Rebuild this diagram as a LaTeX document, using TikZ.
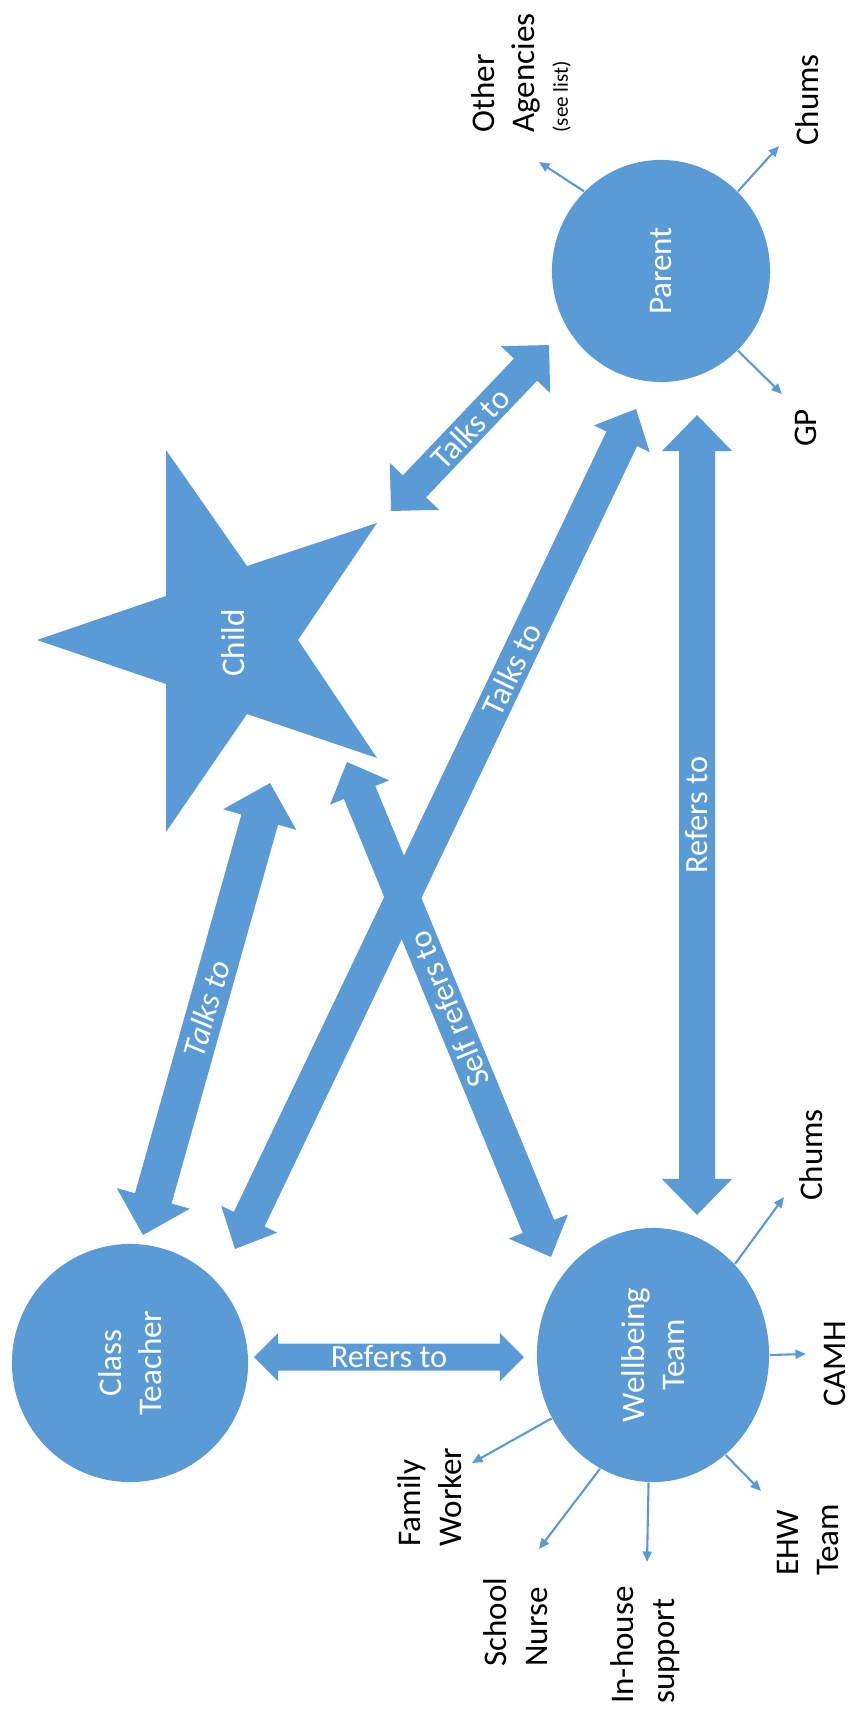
\documentclass[tikz,border=0pt]{standalone}
\usepackage{fontspec}
\setmainfont{Carlito}
\usepackage{tikz}
\usetikzlibrary{calc,arrows.meta,shapes.geometric}

\definecolor{boxblue}{RGB}{91,155,213}

\begin{document}
\begin{tikzpicture}[x=0.01cm,y=-0.01cm,
	blob/.style={ellipse,fill=boxblue,text=white,rotate=90,align=center,inner sep=0pt,font=\fontsize{9.4}{11.4}\selectfont},
	outside/.style={rotate=90,align=left,inner sep=0pt,font=\fontsize{9.4}{11.6}\selectfont},
	onarrow/.style={text=white,inner sep=0pt,sloped,allow upside down,font=\fontsize{9.2}{11}\selectfont},
	link/.style={boxblue,line width=0.6pt,-{Triangle[length=3pt,width=2.6pt]}}]

	% #1 from, #2 to, #3 half shaft, #4 half head, #5 head length
	\newcommand{\bigArrow}[5]{%
		\coordinate (pa) at ($(#1)!#5!(#2)$);
		\coordinate (pb) at ($(#2)!#5!(#1)$);
		\fill[boxblue] (#1) -- ($(pa)!#4!90:(#2)$) -- ($(pa)!#3!90:(#2)$)
			-- ($(pb)!#3!-90:(#1)$) -- ($(pb)!#4!-90:(#1)$) -- (#2)
			-- ($(pb)!#4!90:(#1)$) -- ($(pb)!#3!90:(#1)$)
			-- ($(pa)!#3!-90:(#2)$) -- ($(pa)!#4!-90:(#2)$) -- cycle;
	}

	\useasboundingbox (0,0) rectangle (849,1716);

	% ends of the big arrows
	\coordinate (short_child) at (391,511);
	\coordinate (short_parent) at (549,345);
	\coordinate (tc_teacher) at (143,1235);
	\coordinate (tc_child) at (270,783);
	\coordinate (tp_teacher) at (235,1249);
	\coordinate (tp_parent) at (636,409);
	\coordinate (sr_well) at (551,1257);
	\coordinate (sr_child) at (347,762);
	\coordinate (rp_well) at (697,1215);
	\coordinate (rp_parent) at (697,415);
	\coordinate (rt_teacher) at (254,1357);
	\coordinate (rt_well) at (524,1357);

	% big arrows
	\bigArrow{short_child}{short_parent}{0.16cm}{0.34cm}{0.34cm}
	\bigArrow{tc_teacher}{tc_child}{0.19cm}{0.38cm}{0.38cm}
	\bigArrow{tp_teacher}{tp_parent}{0.17cm}{0.31cm}{0.33cm}
	\bigArrow{sr_well}{sr_child}{0.17cm}{0.32cm}{0.33cm}
	\bigArrow{rp_well}{rp_parent}{0.18cm}{0.35cm}{0.36cm}
	\bigArrow{rt_teacher}{rt_well}{0.135cm}{0.24cm}{0.24cm}

	\path (short_child) -- (short_parent) node[onarrow,midway] {Talks to};
	\path (tc_teacher) -- (tc_child) node[onarrow,midway] {\itshape Talks to};
	\path (tp_teacher) -- (tp_parent) node[onarrow,pos=0.69] {Talks to};
	\path (sr_well) -- (sr_child) node[onarrow,midway] {Self refers to};
	\path (rp_well) -- (rp_parent) node[onarrow,midway] {Refers to};
	\path (rt_teacher) -- (rt_well) node[onarrow,midway] {Refers to};

	% the child
	\fill[boxblue] (37,640) -- (166,596) -- (166,450) -- (247,566) -- (377,523) -- (298,640)
		-- (377,758) -- (247,714) -- (166,832) -- (166,684) -- cycle;
	\node[text=white,rotate=90,inner sep=0pt,font=\fontsize{9.4}{11.4}\selectfont] (child) at (233,643) {Child};

	% people (width and height swap, the nodes are turned)
	\node[blob,minimum width=2.22cm,minimum height=2.18cm] (parent) at (661,271) {Parent};
	\node[blob,minimum width=2.38cm,minimum height=2.36cm] (teacher) at (130,1363) {Class\\Teacher};
	\node[blob,minimum width=2.54cm,minimum height=2.32cm] (well) at (653,1355) {Wellbeing\\Team};

	% labels outside
	\node[outside] (agencies) at (521,73) {Other\\Agencies\\[-2.2pt]{\fontsize{6}{7}\selectfont (see list)}};
	\node[outside] (chums_p) at (807,100) {Chums};
	\node[outside] (gp) at (806,428) {GP};
	\node[outside] (chums_w) at (811,1155) {Chums};
	\node[outside] (camh) at (835,1364) {CAMH};
	\node[outside] (ehw) at (808,1540) {EHW\\Team};
	\node[outside] (inhouse) at (645,1645) {In-house\\support};
	\node[outside] (nurse) at (516,1622) {School\\Nurse};
	\node[outside] (family) at (430,1497) {Family\\Worker};

	% tips of the thin arrows
	\coordinate (agencies_tip) at (539,162);
	\coordinate (chums_p_tip) at (779,146);
	\coordinate (gp_tip) at (782,394);
	\coordinate (chums_w_tip) at (784,1197);
	\coordinate (camh_tip) at (806,1354);
	\coordinate (ehw_tip) at (761,1491);
	\coordinate (inhouse_tip) at (647,1562);
	\coordinate (nurse_tip) at (539,1549);
	\coordinate (family_tip) at (472,1463);

	% thin arrows (anchors turned by the 90 of the node)
	\draw[link] (parent.44) -- (agencies_tip);
	\draw[link] (parent.-44) -- (chums_p_tip);
	\draw[link] (parent.-136) -- (gp_tip);
	\draw[link] (well.-42) -- (chums_w_tip);
	\draw[link] (well.-90) -- (camh_tip);
	\draw[link] (well.-144) -- (ehw_tip);
	\draw[link] (well.178) -- (inhouse_tip);
	\draw[link] (well.155) -- (nurse_tip);
	\draw[link] (well.122) -- (family_tip);
\end{tikzpicture}
\end{document}
